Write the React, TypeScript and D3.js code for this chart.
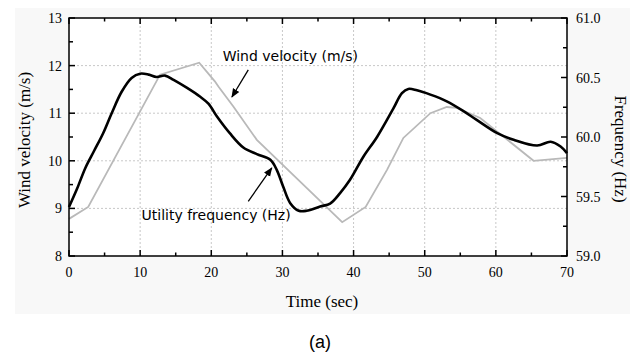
import * as d3 from "d3";

// wind velocity (m/s), gray piecewise line
const windTime = [0, 2.7, 12.8, 18.3, 20.5, 21.0, 23.1, 26.4, 38.4, 41.7, 44.7, 47.0, 50.8, 53.1, 54.5, 57.8, 65.3, 70];
const windSpeed = [8.78, 9.03, 11.81, 12.06, 11.67, 11.56, 11.14, 10.44, 8.71, 9.03, 9.81, 10.48, 11.0, 11.13, 11.11, 10.9, 10.0, 10.06];

// utility frequency (Hz), black curve
const freqTime = [0, 1.1, 2.3, 3.5, 4.8, 6.0, 7.4, 8.8, 10.0, 11.2, 12.3, 13.5, 14.7, 16.6, 18.4, 19.6, 20.8, 22.6, 24.5, 26.4, 28.3, 29.2, 30.1, 31.1, 32.3, 33.4, 35.3, 36.7, 38.1, 39.5, 41.4, 43.3, 45.6, 46.8, 47.7, 48.9, 50.8, 53.1, 55.5, 57.3, 60.2, 62.5, 65.8, 67.7, 69.1, 70];
const freqHz = [59.412, 59.56, 59.74, 59.88, 60.032, 60.2, 60.38, 60.496, 60.532, 60.524, 60.504, 60.516, 60.48, 60.412, 60.34, 60.28, 60.172, 60.032, 59.912, 59.856, 59.808, 59.724, 59.584, 59.444, 59.38, 59.38, 59.416, 59.44, 59.528, 59.64, 59.836, 60.0, 60.24, 60.368, 60.404, 60.392, 60.356, 60.3, 60.216, 60.144, 60.032, 59.976, 59.928, 59.96, 59.92, 59.864];

const xTicks = [0, 10, 20, 30, 40, 50, 60, 70];
const leftTicks = [8, 9, 10, 11, 12, 13];
const rightTicks = ["59.0", "59.5", "60.0", "60.5", "61.0"];

const W = 639, H = 354;
const M = { left: 69, right: 72, top: 18, bottom: 98 };

const serifStyle = { fontFamily: "'Liberation Serif', serif" };

export default function App() {
    const x = d3.scaleLinear().domain([0, 70]).range([M.left, W - M.right]);
    const y = d3.scaleLinear().domain([8, 13]).range([H - M.bottom, M.top]);
    const y2 = d3.scaleLinear().domain([59, 61]).range([H - M.bottom, M.top]);

    const windLine = d3.line<number>().x((d, i) => x(windTime[i])).y((d) => y(d));
    const freqLine = d3.line<number>().x((d, i) => x(freqTime[i])).y((d) => y2(d)).curve(d3.curveCatmullRom.alpha(0.5));

    const x0 = x(0), x1 = x(70), yb = y(8), yt = y(13);
    const minorX = d3.range(5, 70, 10);
    const minorY = d3.range(8.5, 13, 1);
    const minorY2 = d3.range(59.25, 61, 0.5);

    return (
        <svg width={W} height={H} style={{ position: "absolute", left: 0, top: 0, background: "#fff" }}>
            <rect x={15} y={8} width={615} height={306} fill="#f8f8f8" />
            <rect x={x0} y={yt} width={x1 - x0} height={yb - yt} fill="#fff" />

            {/* grid */}
            <g stroke="#c8c8c8" strokeWidth={1} strokeDasharray="2,2">
                {xTicks.slice(1, -1).map((t) => <line key={"gx" + t} x1={x(t)} x2={x(t)} y1={yt} y2={yb} />)}
                {leftTicks.slice(1, -1).map((t) => <line key={"gy" + t} x1={x0} x2={x1} y1={y(t)} y2={y(t)} />)}
            </g>

            <path d={windLine(windSpeed) || ""} fill="none" stroke="#b9b9b9" strokeWidth={1.8} />
            <path d={freqLine(freqHz) || ""} fill="none" stroke="#000" strokeWidth={2.6} strokeLinejoin="round" />

            {/* frame + ticks */}
            <g stroke="#000" strokeWidth={1.5}>
                <rect x={x0} y={yt} width={x1 - x0} height={yb - yt} fill="none" />
                {xTicks.map((t) => (
                    <g key={"tx" + t}>
                        <line x1={x(t)} x2={x(t)} y1={yb} y2={yb - 6} />
                        <line x1={x(t)} x2={x(t)} y1={yt} y2={yt + 6} />
                    </g>
                ))}
                {minorX.map((t) => (
                    <g key={"mx" + t}>
                        <line x1={x(t)} x2={x(t)} y1={yb} y2={yb - 3.5} />
                        <line x1={x(t)} x2={x(t)} y1={yt} y2={yt + 3.5} />
                    </g>
                ))}
                {leftTicks.map((t) => <line key={"ty" + t} x1={x0} x2={x0 + 6} y1={y(t)} y2={y(t)} />)}
                {minorY.map((t) => <line key={"my" + t} x1={x0} x2={x0 + 4} y1={y(t)} y2={y(t)} />)}
                {rightTicks.map((t) => <line key={"tr" + t} x1={x1} x2={x1 - 6} y1={y2(+t)} y2={y2(+t)} />)}
                {minorY2.map((t) => <line key={"mr" + t} x1={x1} x2={x1 - 4} y1={y2(t)} y2={y2(t)} />)}
            </g>

            {/* tick labels */}
            <g fontSize={14} fill="#000">
                {xTicks.map((t) => (
                    <text key={"lx" + t} style={serifStyle} x={x(t)} y={yb + 21} textAnchor="middle">{t}</text>
                ))}
                {leftTicks.map((t) => (
                    <text key={"ly" + t} style={serifStyle} x={x0 - 7} y={y(t) + 5} textAnchor="end">{t}</text>
                ))}
                {rightTicks.map((t) => (
                    <text key={"lr" + t} style={serifStyle} x={x1 + 9} y={y2(+t) + 5} textAnchor="start">{t}</text>
                ))}
            </g>

            {/* axis titles */}
            <g fontSize={17} fill="#000">
                <text style={serifStyle} transform={`translate(30,${(yt + yb) / 2 + 3}) rotate(-90)`} textAnchor="middle">Wind velocity (m/s)</text>
                <text style={serifStyle} transform={`translate(615,${(yt + yb) / 2 + 12}) rotate(90)`} textAnchor="middle">Frequency (Hz)</text>
                <text style={serifStyle} x={(x0 + x1) / 2 + 4} y={307} textAnchor="middle">Time (sec)</text>
            </g>
            <text x={320} y={348} textAnchor="middle" style={{ fontFamily: "'Liberation Sans', sans-serif" }} fontSize={18}>(a)</text>

            {/* annotations */}
            <defs>
                <marker id="ah" viewBox="0 0 10 10" refX={9} refY={5} markerWidth={7} markerHeight={7} orient="auto">
                    <path d="M0,1 L10,5 L0,9 z" fill="#000" />
                </marker>
            </defs>
            <g style={{ fontFamily: "'DejaVu Sans', sans-serif" }} fontSize={14} fill="#000">
                <text x={x(21.6)} y={y(12.09)}>Wind velocity (m/s)</text>
                <text x={x(10.2)} y={y(8.76)}>Utility frequency (Hz)</text>
            </g>
            <line x1={x(25.2)} y1={y(11.91)} x2={x(22.9)} y2={y(11.34)} stroke="#000" strokeWidth={1.3} markerEnd="url(#ah)" />
            <line x1={x(25.2)} y1={y(9.15)} x2={x(28.5)} y2={y(9.85)} stroke="#000" strokeWidth={1.3} markerEnd="url(#ah)" />
        </svg>
    );
}
